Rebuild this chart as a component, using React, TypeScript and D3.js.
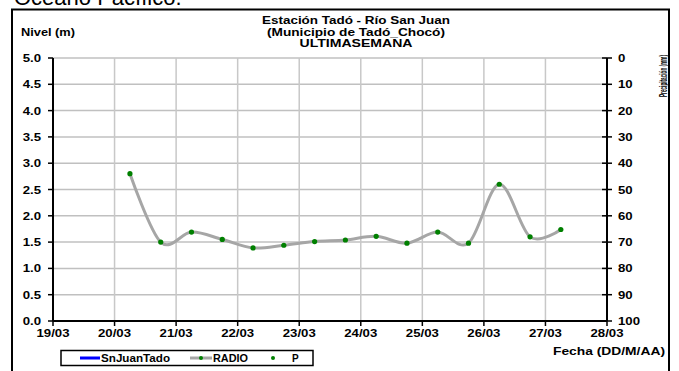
import React from "react";
import * as d3 from "d3";

const times: string[] = [
  "2024-03-20T06:00", "2024-03-20T18:00", "2024-03-21T06:00", "2024-03-21T18:00",
  "2024-03-22T06:00", "2024-03-22T18:00", "2024-03-23T06:00", "2024-03-23T18:00",
  "2024-03-24T06:00", "2024-03-24T18:00", "2024-03-25T06:00", "2024-03-25T18:00",
  "2024-03-26T06:00", "2024-03-26T18:00", "2024-03-27T06:00",
];
const radio: number[] = [2.8, 1.5, 1.69, 1.55, 1.39, 1.44, 1.51, 1.54, 1.61, 1.48, 1.69, 1.48, 2.6, 1.6, 1.74];
const leftTicks: number[] = [0, 0.5, 1, 1.5, 2, 2.5, 3, 3.5, 4, 4.5, 5];
const rightTicks: number[] = [0, 10, 20, 30, 40, 50, 60, 70, 80, 90, 100];
const dayTicks: string[] = [
  "2024-03-19", "2024-03-20", "2024-03-21", "2024-03-22", "2024-03-23",
  "2024-03-24", "2024-03-25", "2024-03-26", "2024-03-27", "2024-03-28",
];
const titleLines: string[] = ["Estación Tadó - Río San Juan", "(Municipio de Tadó_Chocó)", "ULTIMASEMANA"];

const parse = (s: string) => new Date(s.length > 10 ? s : s + "T00:00");

// approximate Arial bold widths for digits/punctuation, stretched like the reference
const numW = (s: string, fs: number) =>
  s.split("").reduce((a, c) => a + (c === "." || c === "/" ? 0.278 : 0.556), 0) * fs * 1.2;

export default function App() {
  const L = 53, R = 607, T = 58, B = 321;
  const x = d3.scaleTime().domain([parse(dayTicks[0]), parse(dayTicks[dayTicks.length - 1])]).range([L, R]);
  const y = d3.scaleLinear().domain([0, 5]).range([B, T]);
  const y2 = d3.scaleLinear().domain([0, 100]).range([T, B]);
  const fmt = d3.timeFormat("%d/%m");
  const pts = times.map((t, i) => ({ t: parse(t), v: radio[i] }));
  const line = d3.line<{ t: Date; v: number }>().x(d => x(d.t)).y(d => y(d.v)).curve(d3.curveCardinal.tension(0));
  const font = "Arial, 'Liberation Sans', sans-serif";
  const titleW = [188, 178, 113];
  const titleY = [24, 35.5, 47];
  return (
    <svg width={679} height={371} style={{ position: "absolute", left: 0, top: 0, background: "#fff" }} fontFamily={font}>
      <text x={14} y={5} fontSize={22} fill="#000">Océano Pacífico.</text>
      <rect x={12} y={9.5} width={657} height={370} fill="#fff" stroke="#000" strokeWidth={2} />
      {titleLines.map((s, i) => (
        <text key={i} x={356} y={titleY[i]} textAnchor="middle" fontSize={10.5} fontWeight="bold"
          textLength={titleW[i]} lengthAdjust="spacingAndGlyphs">{s}</text>
      ))}
      <text x={21} y={36} fontSize={10.5} fontWeight="bold" textLength={54} lengthAdjust="spacingAndGlyphs">Nivel (m)</text>
      {/* grid */}
      {leftTicks.map(v => (
        <line key={"h" + v} x1={L} x2={R} y1={y(v)} y2={y(v)} stroke="#c0c0c0" strokeWidth={1.5} />
      ))}
      {dayTicks.map(d => (
        <line key={"v" + d} x1={x(parse(d))} x2={x(parse(d))} y1={T} y2={B} stroke="#c8c8c8" strokeWidth={1.5} />
      ))}
      {/* axes */}
      <line x1={L} x2={L} y1={T} y2={B} stroke="#000" strokeWidth={2} />
      <line x1={R} x2={R} y1={T} y2={B} stroke="#000" strokeWidth={2} />
      <line x1={L} x2={R} y1={B} y2={B} stroke="#000" strokeWidth={2} />
      {leftTicks.map(v => {
        const s = v.toFixed(1);
        return (
          <g key={"lt" + v}>
            <line x1={L - 5} x2={L} y1={y(v)} y2={y(v)} stroke="#000" strokeWidth={1.5} />
            <text x={41} y={y(v) + 4} textAnchor="end" fontSize={11} fontWeight="bold"
              textLength={numW(s, 11)} lengthAdjust="spacingAndGlyphs">{s}</text>
          </g>
        );
      })}
      {rightTicks.map(v => {
        const s = String(v);
        return (
          <g key={"rt" + v}>
            <line x1={R - 5} x2={R + 5} y1={y2(v)} y2={y2(v)} stroke="#000" strokeWidth={1.5} />
            <text x={618} y={y2(v) + 4} fontSize={11} fontWeight="bold"
              textLength={numW(s, 11)} lengthAdjust="spacingAndGlyphs">{s}</text>
          </g>
        );
      })}
      {dayTicks.map(d => {
        const s = fmt(parse(d));
        return (
          <g key={"xt" + d}>
            <line x1={x(parse(d))} x2={x(parse(d))} y1={B} y2={B + 5} stroke="#000" strokeWidth={1.5} />
            <text x={x(parse(d))} y={B + 16} textAnchor="middle" fontSize={11} fontWeight="bold"
              textLength={numW(s, 11)} lengthAdjust="spacingAndGlyphs">{s}</text>
          </g>
        );
      })}
      <text transform="translate(667,97) rotate(-90)" fontSize={10} fontWeight="bold" textLength={42} lengthAdjust="spacingAndGlyphs">Precipitación (mm)</text>
      {/* series */}
      <path d={line(pts) || ""} fill="none" stroke="#a6a6a6" strokeWidth={3} />
      {pts.map((p, i) => (
        <circle key={i} cx={x(p.t)} cy={y(p.v)} r={2.6} fill="#008000" />
      ))}
      {/* legend */}
      <rect x={61} y={350.5} width={252} height={15} fill="#fff" stroke="#000" strokeWidth={1.5} />
      <line x1={80} x2={100} y1={358} y2={358} stroke="#0000ff" strokeWidth={3} />
      <text x={101} y={362} fontSize={10} fontWeight="bold" textLength={69} lengthAdjust="spacingAndGlyphs">SnJuanTado</text>
      <line x1={190} x2={212} y1={358} y2={358} stroke="#a6a6a6" strokeWidth={3} />
      <circle cx={201} cy={358} r={2} fill="#008000" />
      <text x={213} y={362} fontSize={10} fontWeight="bold" textLength={35} lengthAdjust="spacingAndGlyphs">RADIO</text>
      <circle cx={273} cy={358} r={2} fill="#008000" />
      <text x={292} y={362} fontSize={10} fontWeight="bold">P</text>
      <text x={665} y={355} textAnchor="end" fontSize={11} fontWeight="bold" textLength={112} lengthAdjust="spacingAndGlyphs">Fecha (DD/M/AA)</text>
    </svg>
  );
}
